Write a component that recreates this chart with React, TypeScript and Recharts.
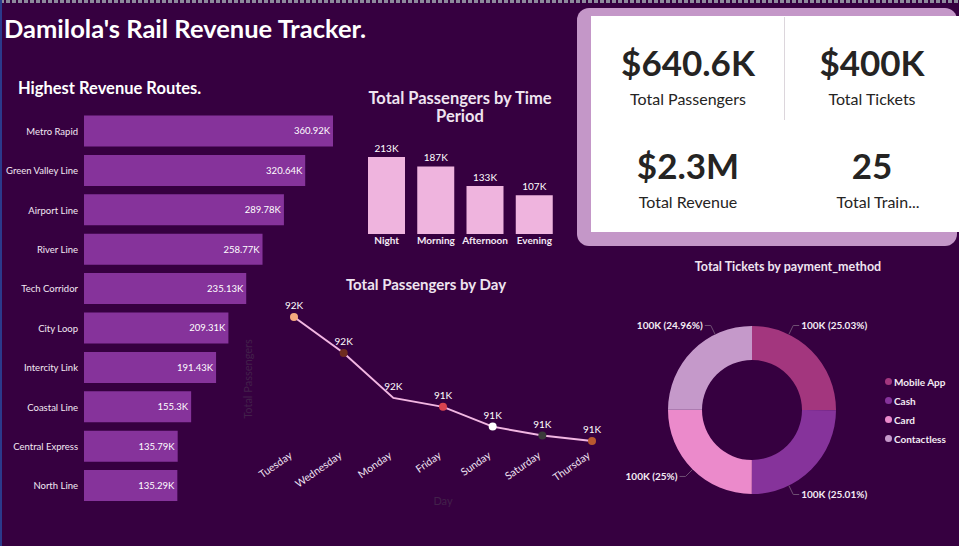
import React from "react";
import {
  BarChart,
  Bar,
  XAxis,
  YAxis,
  LabelList,
  LineChart,
  Line,
  PieChart,
  Pie,
  Cell,
  Legend,
} from "recharts";

// route revenue (top 10)
const routes = [
  "Metro Rapid",
  "Green Valley Line",
  "Airport Line",
  "River Line",
  "Tech Corridor",
  "City Loop",
  "Intercity Link",
  "Coastal Line",
  "Central Express",
  "North Line",
];
const routeRevenue = [360920, 320640, 289780, 258770, 235130, 209310, 191430, 155300, 135790, 135290];

// passengers by time of day
const periods = ["Night", "Morning", "Afternoon", "Evening"];
const periodPassengers = [213200, 187100, 133200, 107100];

// passengers by weekday (sorted desc)
const days = ["Tuesday", "Wednesday", "Monday", "Friday", "Sunday", "Saturday", "Thursday"];
const dayPassengers = [92400, 92000, 91500, 91400, 91180, 91080, 91020];

// tickets by payment method
const methods = ["Mobile App", "Cash", "Card", "Contactless"];
const methodTickets = [100120, 100040, 100000, 99840];

// kpi cards
const kpiValues = ["$640.6K", "$400K", "$2.3M", "25"];
const kpiLabels = ["Total Passengers", "Total Tickets", "Total Revenue", "Total Train..."];

const BG = "#360040";
const FONT = "Lato, 'Open Sans', sans-serif";
const LIGHT = "#efe4f0";
const DOT_COLORS = ["#F4A97E", "#6E2C20", null, "#D9434F", "#FFFFFF", "#3A3A3A", "#B9592F"];
const PIE_COLORS = ["#A3367E", "#86339B", "#EB8ACB", "#C599CA"];
const LABEL_ANGLES = [64, -64, 225, 116];

const routeData = routes.map((route, i) => ({ route, revenue: routeRevenue[i] }));
const periodData = periods.map((period, i) => ({ period, passengers: periodPassengers[i] }));
const dayData = days.map((day, i) => ({ day, passengers: dayPassengers[i] }));
const methodData = methods.map((method, i) => ({ method, tickets: methodTickets[i] }));
const ticketTotal = methodTickets.reduce((a, b) => a + b, 0);

const kFmt = (v: any) => `${Math.round(Number(v) / 1000)}K`;
const k2Fmt = (v: any) => `${+(Number(v) / 1000).toFixed(2)}K`;

const Txt = (p: { x: number; y: number; w?: number; size: number; bold?: boolean; color?: string; align?: any; children: any; lh?: number }) => (
  <div
    style={{
      position: "absolute",
      left: p.x,
      top: p.y,
      width: p.w,
      fontSize: p.size,
      fontWeight: p.bold ? 700 : 400,
      color: p.color || "#fff",
      textAlign: p.align || "left",
      lineHeight: `${p.lh || p.size}px`,
      whiteSpace: p.w ? "normal" : "nowrap",
    }}
  >
    {p.children}
  </div>
);

const RouteTick = (props: any) => {
  const { x, y, payload } = props;
  return (
    <text x={x} y={y} dy={3.5} textAnchor="end" fill="#f3e8f3" fontSize={9.5} fontFamily={FONT}>
      {payload.value}
    </text>
  );
};

const DayTick = (props: any) => {
  const { x, y, payload } = props;
  return (
    <g transform={`translate(${x - 1},${y + 8})`}>
      <text textAnchor="end" transform="rotate(-35)" fill="#eee2f0" fontSize={10.5} fontFamily={FONT}>
        {payload.value}
      </text>
    </g>
  );
};

const DayDot = (props: any) => {
  const { cx, cy, index } = props;
  const c = DOT_COLORS[index];
  if (!c) return <g key={`d${index}`} />;
  return <circle key={`d${index}`} cx={cx} cy={cy} r={4} fill={c} />;
};

const RAD = Math.PI / 180;
const PieLabel = (props: any) => {
  const { cx, cy, outerRadius, index, value } = props;
  const a = LABEL_ANGLES[index] * RAD;
  const x0 = cx + outerRadius * Math.cos(a);
  const y0 = cy - outerRadius * Math.sin(a);
  const x1 = cx + (outerRadius + 10) * Math.cos(a);
  const y1 = cy - (outerRadius + 10) * Math.sin(a);
  const right = Math.cos(a) > 0;
  const x2 = x1 + (right ? 6 : -6);
  const pct = +((Number(value) / ticketTotal) * 100).toFixed(2);
  return (
    <g>
      <polyline points={`${x0},${y0} ${x1},${y1} ${x2},${y1}`} fill="none" stroke="#6f4f73" strokeWidth={1} />
      <text
        x={x2 + (right ? 2 : -2)}
        y={y1}
        dy={3.5}
        textAnchor={right ? "start" : "end"}
        fill="#f3ebf3"
        fontSize={10}
        fontWeight={700}
        fontFamily={FONT}
      >
        {`${kFmt(value)} (${pct}%)`}
      </text>
    </g>
  );
};

const PieLegend = () => (
  <div style={{ fontFamily: FONT }}>
    {methods.map((m, i) => (
      <div key={m} style={{ display: "flex", alignItems: "center", height: 19 }}>
        <span style={{ width: 7, height: 7, borderRadius: 4, background: PIE_COLORS[i], marginRight: 2 }} />
        <span style={{ color: "#f3ebf3", fontSize: 10, fontWeight: 700 }}>{m}</span>
      </div>
    ))}
  </div>
);

const App = () => {
  return (
    <div
      style={{
        position: "absolute",
        left: 0,
        top: 0,
        width: 959,
        height: 546,
        background: BG,
        overflow: "hidden",
        fontFamily: FONT,
      }}
    >
      {/* frame edges */}
      <div style={{ position: "absolute", left: 0, top: 0, width: 959, height: 3, background: "repeating-linear-gradient(90deg, #8d8a9c 0 4px, transparent 4px 6px)" }} />
      <div style={{ position: "absolute", left: 0, top: 0, width: 2, height: 546, background: "#2b3a8c" }} />

      <Txt x={4} y={16} size={25.5} bold>Damilola's Rail Revenue Tracker.</Txt>
      <Txt x={18} y={80} size={16.5} bold>Highest Revenue Routes.</Txt>

      {/* routes */}
      <div style={{ position: "absolute", left: 0, top: 100 }}>
        <BarChart width={340} height={420} data={routeData} layout="vertical" margin={{ top: 11.5, right: 7, left: 0, bottom: 14.5 }}>
          <XAxis type="number" hide domain={[0, "dataMax"]} />
          <YAxis
            type="category"
            dataKey="route"
            width={84}
            axisLine={false}
            tickLine={false}
            tickSize={4}
            tickMargin={2}
            interval={0}
            tick={<RouteTick />}
          />
          <Bar dataKey="revenue" fill="#86339B" barSize={31} isAnimationActive={false}>
            <LabelList dataKey="revenue" position="insideRight" offset={3} fill="#fff" fontSize={9.5} fontFamily={FONT} formatter={k2Fmt} />
          </Bar>
        </BarChart>
      </div>

      {/* time period */}
      <Txt x={350} y={89} w={220} size={16.5} bold align="center" lh={18} color={LIGHT}>
        Total Passengers by Time Period
      </Txt>
      <div style={{ position: "absolute", left: 362, top: 130 }}>
        <BarChart width={197} height={124} data={periodData} margin={{ top: 27, right: 0, left: 0, bottom: 0 }}>
          <XAxis
            dataKey="period"
            height={20}
            axisLine={false}
            tickLine={false}
            tickSize={0}
            tickMargin={3}
            interval={0}
            tick={{ fill: "#f3e8f3", fontSize: 10, fontWeight: 700, fontFamily: FONT }}
          />
          <YAxis hide domain={[0, "dataMax"]} />
          <Bar dataKey="passengers" fill="#EFB4DE" barSize={37} isAnimationActive={false}>
            <LabelList dataKey="passengers" position="top" fill="#fff" fontSize={10} fontFamily={FONT} formatter={kFmt} />
          </Bar>
        </BarChart>
      </div>

      {/* by day */}
      <Txt x={326} y={277} w={200} size={15} bold align="center" color={LIGHT}>
        Total Passengers by Day
      </Txt>
      <div style={{ position: "absolute", left: 240, top: 300 }}>
        <LineChart width={370} height={220} data={dayData} margin={{ top: 17, right: 18, left: 0, bottom: 15 }}>
          <XAxis
            dataKey="day"
            height={64}
            axisLine={false}
            tickLine={false}
            interval={0}
            tick={<DayTick />}
            label={{ value: "Day", position: "insideBottom", offset: 0, fill: "#43214b", fontSize: 11, fontFamily: FONT }}
          />
          <YAxis
            type="number"
            width={54}
            domain={["dataMin", "dataMax"]}
            tick={false}
            axisLine={false}
            tickLine={false}
            label={{ value: "Total Passengers", angle: -90, position: "insideLeft", offset: 8, fill: "#43214b", fontSize: 11, fontFamily: FONT, style: { textAnchor: "middle" } }}
          />
          <Line
            type="linear"
            dataKey="passengers"
            stroke="#F2B6E2"
            strokeWidth={2}
            dot={<DayDot />}
            activeDot={false}
            isAnimationActive={false}
          >
            <LabelList dataKey="passengers" position="top" offset={8} fill="#fff" fontSize={10} fontFamily={FONT} formatter={kFmt} />
          </Line>
        </LineChart>
      </div>

      {/* payment method */}
      <Txt x={688} y={261} w={200} size={12.5} bold align="center" color={LIGHT}>
        Total Tickets by payment_method
      </Txt>
      <div style={{ position: "absolute", left: 600, top: 250 }}>
        <PieChart width={359} height={296} margin={{ top: 0, right: 0, bottom: 0, left: 0 }}>
          <Pie
            data={methodData}
            dataKey="tickets"
            nameKey="method"
            cx={152}
            cy={160}
            innerRadius={50}
            outerRadius={84}
            startAngle={90}
            endAngle={-270}
            stroke="none"
            label={<PieLabel />}
            labelLine={false}
            isAnimationActive={false}
          >
            {methodData.map((d, i) => (
              <Cell key={d.method} fill={PIE_COLORS[i]} />
            ))}
          </Pie>
          <Legend content={<PieLegend />} wrapperStyle={{ left: 285, top: 122, width: 80 }} />
        </PieChart>
      </div>

      {/* kpi cards */}
      <div style={{ position: "absolute", left: 577, top: 8, width: 380, height: 238, background: "#C497C8", borderRadius: 12 }} />
      <div style={{ position: "absolute", left: 591, top: 16, width: 368, height: 216, background: "#fff" }} />
      <div style={{ position: "absolute", left: 784, top: 17, width: 1, height: 103, background: "#dcd6dc" }} />
      {kpiValues.map((v, i) => {
        const cx = i % 2 === 0 ? 688 : 872;
        const top = i < 2 ? 0 : 103;
        return (
          <React.Fragment key={v}>
            <Txt x={cx - 90} y={top + 45} w={180} size={35} bold align="center" color="#252423">{v}</Txt>
            <Txt x={cx - 90 + (i === 3 ? 6 : 0)} y={top + 91} w={180} size={16} align="center" color="#252423">{kpiLabels[i]}</Txt>
          </React.Fragment>
        );
      })}
    </div>
  );
};

export default App;
